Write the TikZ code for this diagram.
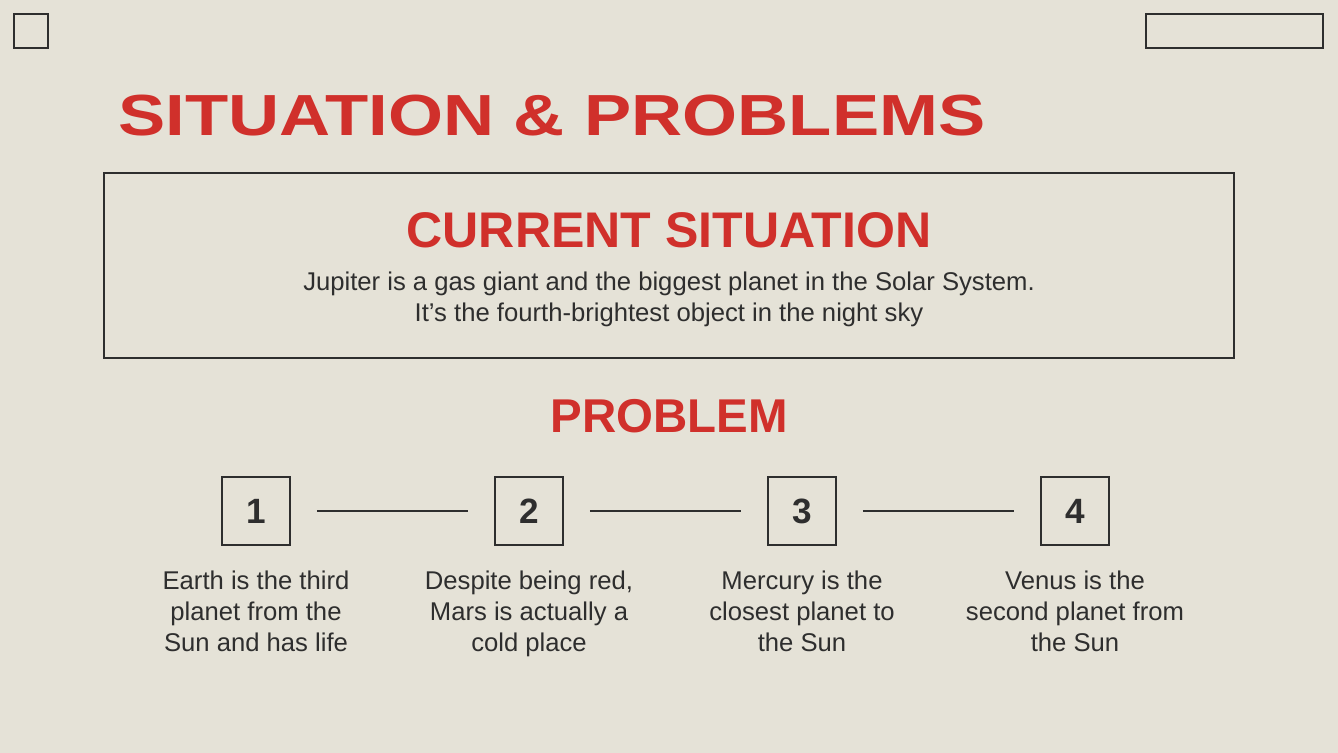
\documentclass[tikz,border=0pt]{standalone}
\usepackage{fontspec}
\setmainfont{Liberation Sans}[Ligatures=NoCommon]
\newfontfamily\widefont{Liberation Sans}[FakeStretch=1.22]
\usetikzlibrary{positioning}
\definecolor{paper}{HTML}{E5E2D7}
\definecolor{slidered}{HTML}{D0302B}
\definecolor{ink}{HTML}{2E2E2E}
\tikzset{
  frame/.style={draw=ink, line width=0.9pt},
  numbox/.style={frame, minimum size=1.36cm, inner sep=0pt, font=\fontsize{20}{20}\selectfont\bfseries, text=ink},
  head/.style={text=slidered, font=\bfseries},
  body/.style={text=ink, align=center, font=\fontsize{14.6}{17.6}\selectfont},
}
\begin{document}
\begin{tikzpicture}[x=0.02cm,y=-0.02cm]
\fill[paper] (0,0) rectangle (1338,753);
\useasboundingbox (0,0) rectangle (1338,753);

% corner marks
\draw[frame] (14,14) rectangle (48,48);
\draw[frame] (1146,14) rectangle (1323,48);

% title
\node[head, font=\widefont\fontsize{33}{33}\selectfont\bfseries, anchor=west] (title) at (112,116) {SITUATION \& PROBLEMS};

% current situation
\draw[frame] (104,173) rectangle (1234,358);
\node[head, font=\fontsize{28.5}{28.5}\selectfont\bfseries] (cur) at (669,230) {CURRENT SITUATION};
\node[body] (curtext) at (669,299) {Jupiter is a gas giant and the biggest planet in the Solar System.\\It{\char"27}s the fourth-brightest object in the night sky};

% problem
\node[head, font=\fontsize{27}{27}\selectfont\bfseries] (prob) at (669,416) {PROBLEM};

\foreach \i/\x/\txt in {1/256/{Earth is the third\\planet from the\\Sun and has life},
                        2/529/{Despite being red,\\Mars is actually a\\cold place},
                        3/802/{Mercury is the\\closest planet to\\the Sun},
                        4/1075/{Venus is the\\second planet from\\the Sun}}
{
  \node[numbox] (n\i) at (\x,511) {\i};
  \node[body, anchor=north] (d\i) at (\x,565) {\txt};
}
\foreach \a/\b in {1/2,2/3,3/4}
  \draw[ink, line width=0.9pt, shorten <=0.52cm, shorten >=0.52cm] (n\a) -- (n\b);
\end{tikzpicture}
\end{document}
